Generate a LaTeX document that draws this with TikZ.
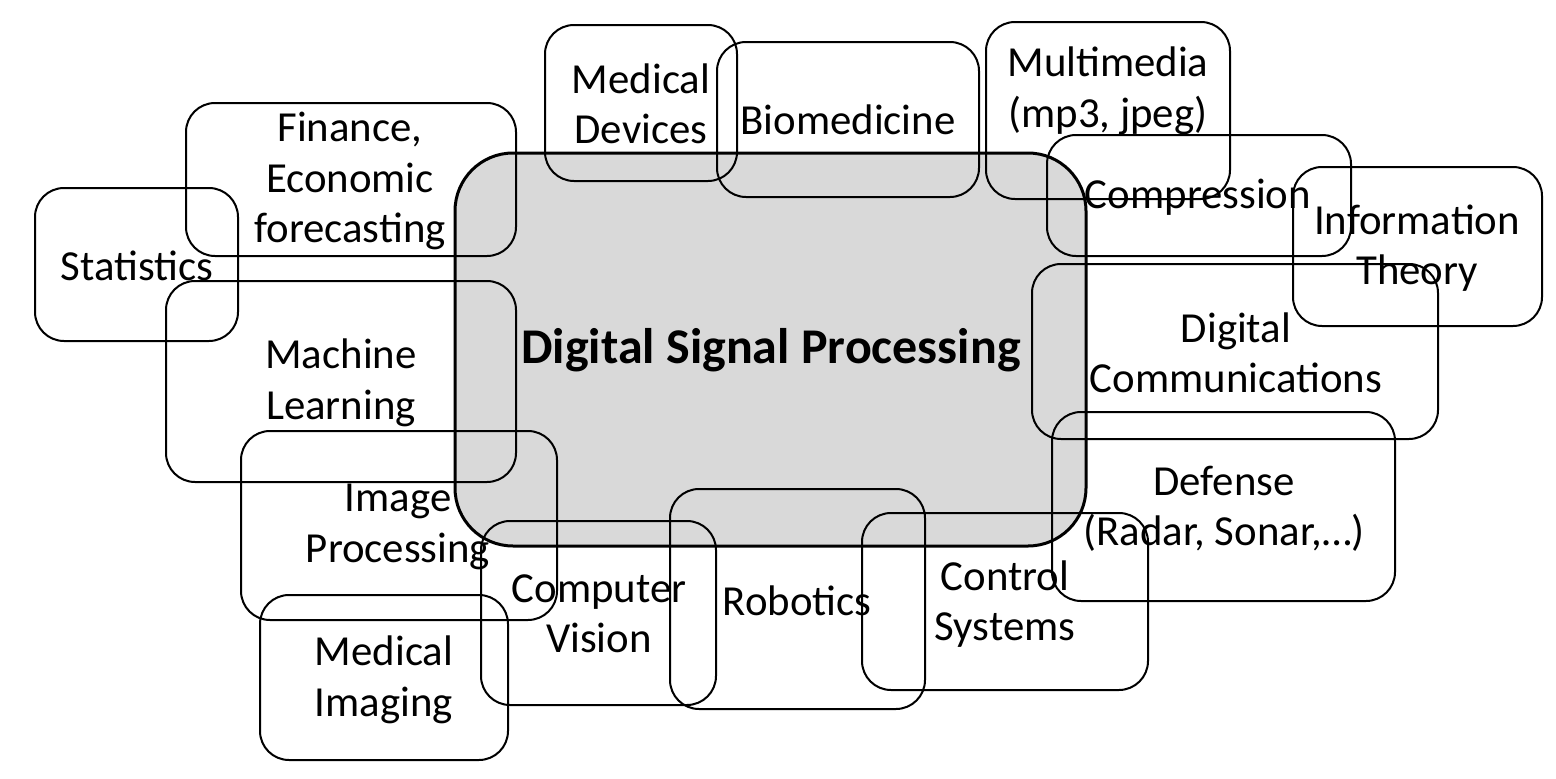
\documentclass[tikz,border=0pt]{standalone}
\usepackage{fontspec}
\setmainfont{Carlito}
\begin{document}
\begin{tikzpicture}[x=1pt,y=-1pt,
  box/.style={draw=black,line width=2pt,rounded corners=29pt},
  core/.style={draw=black,fill=black!15,line width=3pt,rounded corners=58pt},
  lbl/.style={font=\fontsize{42.8}{50.5}\selectfont,align=center,inner sep=0pt},
  big/.style={font=\fontsize{50}{60}\selectfont\bfseries,align=center,inner sep=0pt}]
\useasboundingbox (0,0) rectangle (1556,779);
\fill[white] (0,0) rectangle (1556,779);
% central box
\draw[core] (455,153) rectangle (1086,546);
% surrounding boxes
\draw[box] (545,25) rectangle (737,181);
\draw[box] (717,42) rectangle (979,197);
\draw[box] (986,22) rectangle (1230,199);
\draw[box] (1047,135) rectangle (1351,256);
\draw[box] (1293,167) rectangle (1542,326);
\draw[box] (186,103) rectangle (516,256);
\draw[box] (35,188) rectangle (238,341);
\draw[box] (166,281) rectangle (516,482);
\draw[box] (1032,264) rectangle (1438,439);
\draw[box] (241,431) rectangle (557,620);
\draw[box] (1052,412) rectangle (1395,601);
\draw[box] (481,521) rectangle (716,705);
\draw[box] (670,489) rectangle (925,709);
\draw[box] (862,513) rectangle (1148,690);
\draw[box] (260,595) rectangle (508,760);
% labels
\node[big] (dsp) at (771,350) {Digital Signal Processing};
\node[lbl] (md) at (641,104) {Medical\\Devices};
\node[lbl] (bio) at (848,120) {Biomedicine};
\node[lbl] (mm) at (1108,91) {Multimedia\\(mp3, jpeg)};
\node[lbl] (comp) at (1198,197) {Compression};
\node[lbl] (it) at (1417,248) {Information\\Theory};
\node[lbl] (fin) at (350,181) {Finance,\\Economic\\forecasting};
\node[lbl] (stat) at (137,266) {Statistics};
\node[lbl] (ml) at (341,383) {Machine\\Learning};
\node[lbl] (dc) at (1236,353) {Digital\\Communications};
\node[lbl] (ip) at (398,527) {Image\\Processing};
\node[lbl] (def) at (1224,509) {Defense\\(Radar, Sonar,…)};
\node[lbl] (cv) at (599,614) {Computer\\Vision};
\node[lbl] (rob) at (797,601) {Robotics};
\node[lbl] (cs) at (1005,604) {Control\\Systems};
\node[lbl] (mi) at (384,680) {Medical\\Imaging};
\end{tikzpicture}
\end{document}
